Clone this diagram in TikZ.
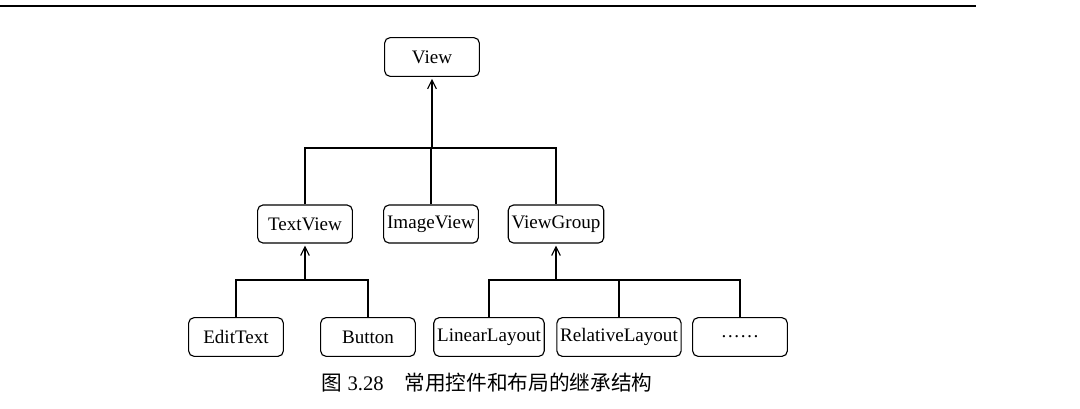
\documentclass[tikz,border=0pt]{standalone}
\usepackage{fontspec}
\setmainfont{Liberation Serif}
\newfontfamily\cjkfont{Noto Sans CJK SC}
\usetikzlibrary{arrows.meta,positioning}

\begin{document}
\begin{tikzpicture}[x=0.75pt,y=-0.75pt,>={Straight Barb[length=6.5pt,width=6.5pt]},
  cls/.style={draw,rounded corners=4pt,line width=0.85pt,minimum width=71pt,
    minimum height=29pt,inner xsep=2.5pt,font=\fontsize{14.3}{16}\selectfont},
  link/.style={line width=0.85pt}]

  \useasboundingbox (0,0) rectangle (1080,408);

  % -- HEADER RULE ---------------------------------------------------
  \draw[line width=1.6pt] (0,6) -- (976,6);

  % -- CLASSES -------------------------------------------------------
  \node[cls] (view) at (432,57) {View};

  \node[cls,minimum height=28.5pt] (textview)  at (305,224) {TextView};
  \node[cls,minimum height=28.5pt] (imageview) at (431,224) {ImageView};
  \node[cls,minimum height=28.5pt] (viewgroup) at (556,224) {ViewGroup};

  \node[cls] (edittext)       at (236,337) {EditText};
  \node[cls] (button)         at (368,337) {Button};
  \node[cls] (linearlayout)   at (489,337) {LinearLayout};
  \node[cls] (relativelayout) at (619,337) {RelativeLayout};
  \node[cls] (more)           at (740,337) {……};

  % -- INHERITANCE LINKS ---------------------------------------------
  \coordinate (topbus)   at (432,148);
  \coordinate (leftbus)  at (305,280);
  \coordinate (rightbus) at (556,280);

  \draw[link,->,shorten >=1.5pt] (topbus) -- (view.south);
  \draw[link] (textview.north) |- (topbus) -| (viewgroup.north);
  \draw[link] (imageview.north) -- (imageview.north |- topbus);

  \draw[link,->,shorten >=1.5pt] (leftbus) -- (textview.south);
  \draw[link] (edittext.north) |- (leftbus) -| (button.north);

  \draw[link,->,shorten >=1.5pt] (rightbus) -- (viewgroup.south);
  \draw[link] (linearlayout.north) |- (rightbus) -| (more.north);
  \draw[link] (relativelayout.north) -- (relativelayout.north |- rightbus);

  % -- CAPTION -------------------------------------------------------
  \node[font=\fontsize{15.5}{18}\selectfont] (caption) at (487,383)
    {{\cjkfont 图}~3.28\quad{\cjkfont 常用控件和布局的继承结构}};

\end{tikzpicture}
\end{document}
